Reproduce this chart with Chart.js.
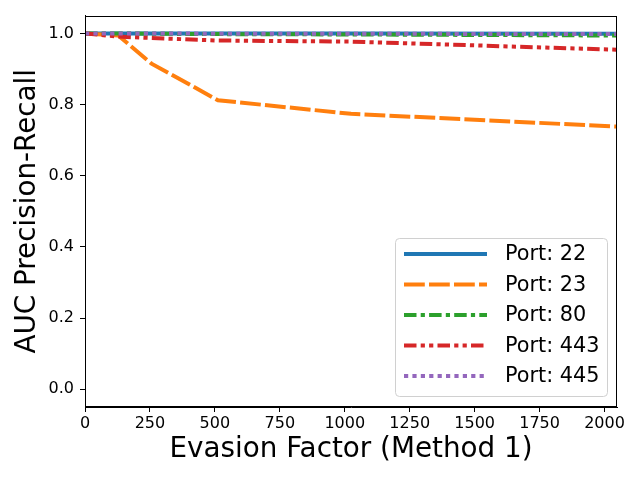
<!DOCTYPE html>
<html>
<head>
<meta charset="utf-8">
<script src="https://cdn.jsdelivr.net/npm/chart.js@4/dist/chart.umd.min.js"></script>
<style>
  body { margin: 0; background: #fff; }
  #wrap { width: 640px; height: 480px; }
</style>
</head>
<body>
<div id="wrap"><canvas id="myChart" width="640" height="480"></canvas></div>
<script>
const evasion = [0, 128, 256, 512, 1024, 2048];
const port22 = [1.0, 1.0, 1.0, 1.0, 1.0, 0.999];
const port23 = [1.0, 0.994, 0.915, 0.812, 0.774, 0.738];
const port80 = [1.0, 1.0, 0.999, 0.998, 0.997, 0.994];
const port443 = [1.0, 0.991, 0.987, 0.980, 0.977, 0.954];
const port445 = [1.0, 1.0, 1.0, 0.999, 0.999, 0.998];
const seriesNames = ['Port: 22', 'Port: 23', 'Port: 80', 'Port: 443', 'Port: 445'];
const xTicks = [0, 250, 500, 750, 1000, 1250, 1500, 1750, 2000];
const yTicks = [0.0, 0.2, 0.4, 0.6, 0.8, 1.0];

const FONT = 'DejaVu Sans';

function pts(ys) {
  return ys.map((y, i) => ({ x: evasion[i], y: y }));
}

// frame round the plot area and a matplotlib-like legend box
const framePlugin = {
  id: 'frame',
  afterDatasetsDraw(chart) {
    const a = chart.chartArea;
    const c = chart.ctx;
    c.save();
    c.strokeStyle = '#000';
    c.lineWidth = 1;
    c.strokeRect(Math.round(a.left) + 0.5, Math.round(a.top) + 0.5,
      Math.round(a.right - a.left) - 1, Math.round(a.bottom - a.top) - 1);

    // legend
    const w = 212, h = 158;
    const x0 = a.right - 10 - w, y0 = a.bottom - 11 - h;
    c.beginPath();
    c.roundRect(x0 + 0.5, y0 + 0.5, w, h, 4);
    c.fillStyle = 'rgba(255,255,255,0.8)';
    c.fill();
    c.strokeStyle = '#d0d0d0';
    c.stroke();
    c.font = '20.8px "' + FONT + '"';
    c.textBaseline = 'middle';
    c.textAlign = 'left';
    chart.data.datasets.forEach((ds, i) => {
      const yy = y0 + 16 + i * 30.5;
      c.beginPath();
      c.setLineDash(ds.borderDash || []);
      c.strokeStyle = ds.borderColor;
      c.lineWidth = ds.borderWidth;
      c.moveTo(x0 + 9, yy);
      c.lineTo(x0 + 92, yy);
      c.stroke();
      c.setLineDash([]);
      c.fillStyle = '#000';
      c.fillText(ds.label, x0 + 110, yy + 1);
    });
    c.restore();
  }
};

const colors = ['#1f77b4', '#ff7f0e', '#2ca02c', '#d62728', '#9467bd'];
const dashes = [[], [20.8, 4.2], [12.5, 4.2, 4.2, 4.2], [12.5, 4.2, 4.2, 4.2, 4.2, 4.2], [4.2, 4.2]];
const values = [port22, port23, port80, port443, port445];

const ctx = document.getElementById('myChart');

new Chart(ctx, {
  type: 'line',
  data: {
    datasets: values.map((v, i) => ({
      label: seriesNames[i],
      data: pts(v),
      borderColor: colors[i],
      backgroundColor: colors[i],
      borderDash: dashes[i],
      borderWidth: 4,
      pointRadius: 0,
      tension: 0,
      fill: false,
      order: values.length - 1 - i
    }))
  },
  options: {
    responsive: false,
    animation: false,
    layout: { padding: { top: 15, right: 23, left: 0, bottom: 0 } },
    plugins: {
      legend: { display: false },
      tooltip: { enabled: false }
    },
    scales: {
      x: {
        type: 'linear',
        min: 0,
        max: 2048,
        afterBuildTicks: s => { s.ticks = xTicks.map(v => ({ value: v })); },
        afterFit: s => { s.height = 73; },
        ticks: {
          color: '#000',
          font: { family: FONT, size: 16 },
          padding: 2,
          maxRotation: 0,
          callback: v => String(v)
        },
        grid: { drawOnChartArea: false, drawTicks: true, tickLength: 5, tickColor: '#000' },
        border: { color: '#000', width: 1 },
        title: {
          display: true,
          text: 'Evasion Factor (Method 1)',
          color: '#000',
          font: { family: FONT, size: 27.8 },
          padding: { top: 0, bottom: 14 }
        }
      },
      y: {
        min: -0.05,
        max: 1.05,
        afterBuildTicks: s => { s.ticks = yTicks.map(v => ({ value: v })); },
        afterFit: s => { s.width = 85; },
        ticks: {
          color: '#000',
          font: { family: FONT, size: 16 },
          padding: 6,
          callback: v => Number(v).toFixed(1)
        },
        grid: { drawOnChartArea: false, drawTicks: true, tickLength: 5, tickColor: '#000' },
        border: { color: '#000', width: 1 },
        title: {
          display: true,
          text: 'AUC Precision-Recall',
          color: '#000',
          font: { family: FONT, size: 27.8 },
          padding: { top: 11, bottom: 0 }
        }
      }
    }
  },
  plugins: [framePlugin]
});
</script>
</body>
</html>
